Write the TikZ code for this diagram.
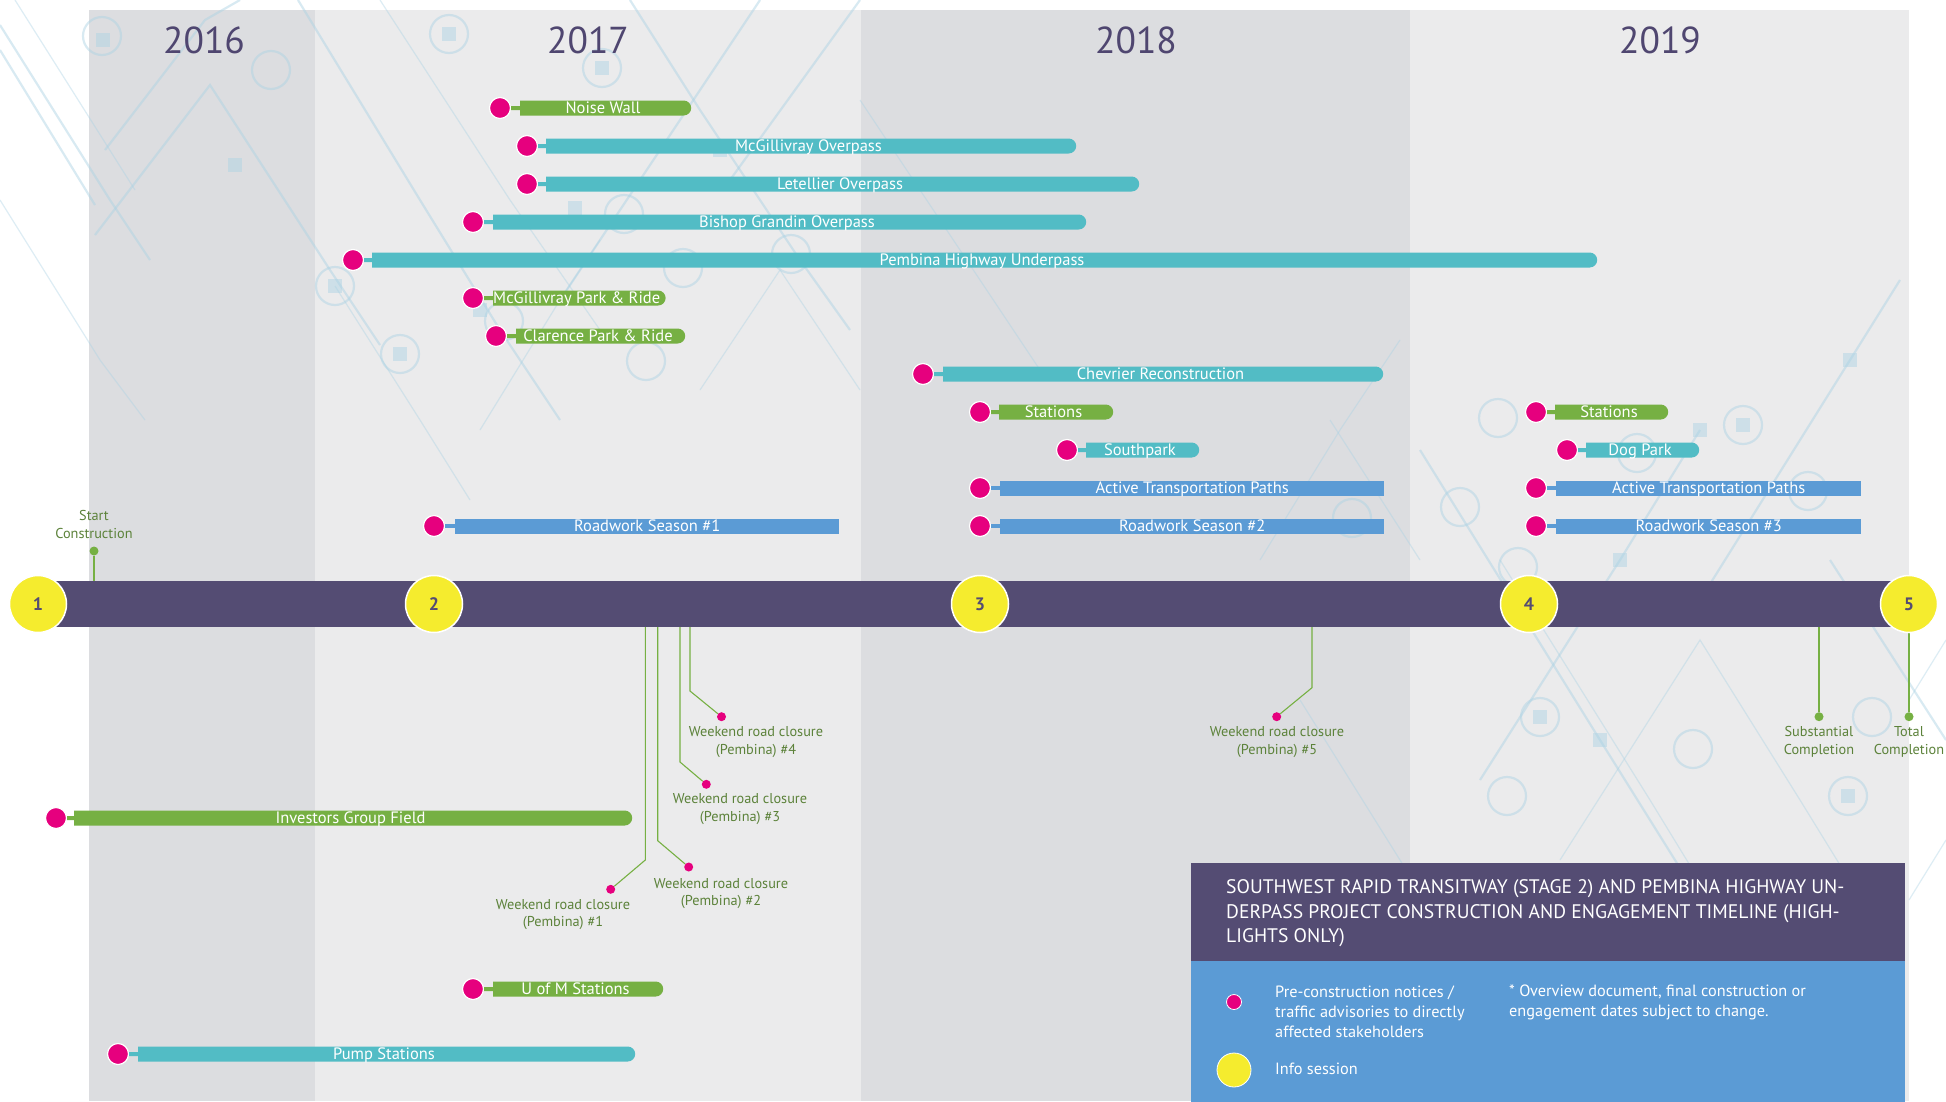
\documentclass[tikz,border=0pt]{standalone}
\usepackage{fontspec}
\setmainfont{PT Sans}
\usetikzlibrary{shapes.misc}
\definecolor{bandA}{RGB}{220,221,224}
\definecolor{bandB}{RGB}{235,235,236}
\definecolor{tlpurple}{RGB}{84,76,115}
\definecolor{gGreen}{RGB}{118,176,67}
\definecolor{gTeal}{RGB}{82,188,197}
\definecolor{gBlue}{RGB}{91,155,213}
\definecolor{mag}{RGB}{230,0,126}
\definecolor{yel}{RGB}{245,236,46}
\definecolor{txtgreen}{RGB}{92,130,58}
\definecolor{yeartxt}{RGB}{79,70,112}
\definecolor{deco}{RGB}{170,210,228}
\tikzset{
  yearlbl/.style={text=yeartxt, font=\fontsize{37.5}{37.5}\selectfont, inner sep=0},
  gdot/.style={circle, fill=mag, draw=white, line width=1.2pt, minimum size=21, inner sep=0},
  barbase/.style={inner sep=0, minimum height=15, text height=13, text depth=1.4, text=white, font=\fontsize{16.5}{16.5}\selectfont, anchor=west},
  roundbar/.style={barbase, rounded rectangle, rounded rectangle west arc=none},
  squarebar/.style={barbase, rectangle},
  stub/.style={line width=4},
  infocircle/.style={circle, fill=yel, draw=white, line width=1.5pt, minimum size=57, inner sep=0, text=tlpurple, font=\bfseries\fontsize{18}{18}\selectfont},
  annline/.style={draw=gGreen, line width=1.1},
  smdot/.style={circle, fill=mag, minimum size=9, inner sep=0},
  smgdot/.style={circle, fill=gGreen, minimum size=9, inner sep=0},
  annlbl/.style={text=txtgreen, align=center, inner sep=0, font=\fontsize{14.3}{17.5}\selectfont},
  lgtext/.style={text=white, align=left, inner sep=0, anchor=west},
  decoline/.style={draw=deco, line width=2.2, opacity=0.45},
  decothin/.style={draw=deco, line width=1.2, opacity=0.4},
  decocirc/.style={draw=deco, line width=2.2, opacity=0.45},
  decosq/.style={fill=deco, opacity=0.45},
}
% #1 name, #2 y, #3 dot x, #4 bar start, #5 bar end, #6 colour, #7 bar style, #8 text
\newcommand\gbar[8]{%
  \node[gdot] (#1d) at (#3,#2) {};
  \node[#7, fill=#6, minimum width={#5-#4}] (#1) at (#4,#2) {#8};
  \draw[stub, draw=#6] (#1d) -- (#1);
}
\newcommand\dcirc[2]{\draw[decocirc] (#1,#2) circle[radius=19];}
\newcommand\dsq[2]{\fill[decosq] (#1-7,#2-7) rectangle (#1+7,#2+7);}
\begin{document}
\begin{tikzpicture}[x=1pt,y=-1pt]
\useasboundingbox (0,0) rectangle (1946,1101);
\fill[white] (0,0) rectangle (1946,1101);
% year bands
\fill[bandA] (89,10) rectangle (315,1101);
\fill[bandB] (315,10) rectangle (861,1101);
\fill[bandA] (861,10) rectangle (1410,1101);
\fill[bandB] (1410,10) rectangle (1909,1101);

% faint circuit decoration
\draw[decoline] (0,25) -- (110,200) -- (150,260);
\draw[decoline] (0,50) -- (95,205);
\draw[decothin] (15,0) -- (135,190);
\draw[decothin] (0,200) -- (100,360) -- (145,420);
\draw[decoline] (105,150) -- (205,20) -- (240,0);
\draw[decoline] (95,235) -- (210,85) -- (330,270) -- (380,345);
\draw[decoline] (298,0) -- (420,200) -- (500,330) -- (560,420);
\draw[decothin] (380,0) -- (510,200) -- (600,330);
\draw[decoline] (560,300) -- (660,150) -- (720,60) -- (760,0);
\draw[decoline] (630,0) -- (700,110) -- (800,260) -- (850,330);
\draw[decothin] (700,390) -- (780,270) -- (860,390);
\draw[decothin] (480,430) -- (560,300) -- (600,240);
\draw[decoline] (730,180) -- (860,0);
\draw[decothin] (335,286) -- (420,420) -- (470,500);
\draw[decothin] (860,100) -- (960,250) -- (1040,370);
\dcirc{102}{36} \dsq{103}{40}
\dcirc{271}{70} \dcirc{449}{34} \dsq{449}{34}
\dcirc{602}{68} \dsq{602}{68}
\dcirc{624}{214} \dcirc{335}{286} \dsq{335}{286}
\dcirc{400}{354} \dsq{400}{354}
\dcirc{504}{321} \dcirc{646}{361} \dcirc{683}{268} \dcirc{791}{254}
\dsq{235}{165} \dsq{575}{208} \dsq{480}{310} \dsq{720}{150}
% right-bottom decoration
\draw[decoline] (1420,450) -- (1600,740) -- (1700,900) -- (1760,1000);
\draw[decothin] (1500,560) -- (1650,800) -- (1760,980);
\draw[decoline] (1480,780) -- (1620,560) -- (1700,430);
\draw[decoline] (1700,600) -- (1850,360) -- (1900,280);
\draw[decothin] (1560,860) -- (1700,640) -- (1800,800) -- (1880,930);
\draw[decoline] (1830,560) -- (1946,740);
\draw[decothin] (1909,900) -- (1946,840);
\draw[decothin] (1909,700) -- (1946,640);
\draw[decothin] (1300,700) -- (1400,860) -- (1460,960);
\draw[decothin] (1260,560) -- (1340,430) -- (1400,340);
\draw[decothin] (1330,420) -- (1420,560);
\dcirc{1540}{717} \dsq{1540}{717}
\dcirc{1693}{749} \dcirc{1507}{796} \dcirc{1848}{796} \dsq{1848}{796}
\dcirc{1872}{717} \dcirc{1518}{567}
\dcirc{1498}{418} \dcirc{1743}{425} \dsq{1743}{425}
\dcirc{1637}{453} \dcirc{1808}{491} \dcirc{1460}{507} \dcirc{1352}{518}
\dsq{1620}{560} \dsq{1700}{430} \dsq{1850}{360} \dsq{1600}{740}

\node[yearlbl] (y2016) at (204,40) {2016};
\node[yearlbl] (y2017) at (588,40) {2017};
\node[yearlbl] (y2018) at (1136,40) {2018};
\node[yearlbl] (y2019) at (1660,40) {2019};

% gantt bars
\gbar{nw}{108}{500}{520}{691}{gGreen}{roundbar}{Noise Wall}
\gbar{mo}{146}{527}{546}{1076}{gTeal}{roundbar}{McGillivray Overpass}
\gbar{lo}{184}{527}{546}{1139}{gTeal}{roundbar}{Letellier Overpass}
\gbar{bg}{222}{473}{493}{1086}{gTeal}{roundbar}{Bishop Grandin Overpass}
\gbar{ph}{260}{353}{372}{1597}{gTeal}{roundbar}{Pembina Highway Underpass}
\gbar{mp}{298}{473}{493}{663}{gGreen}{roundbar}{McGillivray Park \& Ride}
\gbar{cp}{336}{496}{516}{685}{gGreen}{roundbar}{Clarence Park \& Ride}
\gbar{ch}{374}{923}{943}{1383}{gTeal}{roundbar}{Chevrier Reconstruction}
\gbar{st}{412}{980}{999}{1113}{gGreen}{roundbar}{Stations}
\gbar{sp}{450}{1067}{1086}{1199}{gTeal}{roundbar}{Southpark}
\gbar{at}{488}{980}{1000}{1384}{gBlue}{squarebar}{Active Transportation Paths}
\gbar{rs2}{526}{980}{1000}{1384}{gBlue}{squarebar}{Roadwork Season \#2}
\gbar{rs1}{526}{434}{455}{839}{gBlue}{squarebar}{Roadwork Season \#1}
\gbar{stb}{412}{1536}{1555}{1668}{gGreen}{roundbar}{Stations}
\gbar{dp}{450}{1567}{1586}{1699}{gTeal}{roundbar}{Dog Park}
\gbar{atb}{488}{1536}{1556}{1861}{gBlue}{squarebar}{Active Transportation Paths}
\gbar{rs3}{526}{1536}{1556}{1861}{gBlue}{squarebar}{Roadwork Season \#3}
\gbar{ig}{818}{56}{74}{632}{gGreen}{roundbar}{Investors Group Field}
\gbar{um}{989}{473}{493}{663}{gGreen}{roundbar}{U of M Stations}
\gbar{ps}{1054}{118}{138}{635}{gTeal}{roundbar}{Pump Stations}

% timeline
\node[fill=tlpurple, minimum width=1860, minimum height=46, anchor=west, inner sep=0] (tl) at (50,604) {};

% annotations above
\node[smgdot] (scdot) at (94,551) {};
\draw[annline] (scdot) -- (scdot |- tl.north);
\node[annlbl] (sclbl) at (94,524.5) {Start\\Construction};

% weekend closures
\coordinate (w4b) at (690,691);
\node[smdot] (w4d) at (721.5,716.7) {};
\draw[annline] (w4b |- tl.south) -- (w4b) -- (w4d);
\node[annlbl] (w4l) at (756,742) {Weekend road closure\\(Pembina) \#4};

\coordinate (w3b) at (680,762);
\node[smdot] (w3d) at (706.3,784.3) {};
\draw[annline] (w3b |- tl.south) -- (w3b) -- (w3d);
\node[annlbl] (w3l) at (740,809) {Weekend road closure\\(Pembina) \#3};

\coordinate (w2b) at (657.7,840.7);
\node[smdot] (w2d) at (688.7,867) {};
\draw[annline] (w2b |- tl.south) -- (w2b) -- (w2d);
\node[annlbl] (w2l) at (721,893.5) {Weekend road closure\\(Pembina) \#2};

\coordinate (w1b) at (645.3,860);
\node[smdot] (w1d) at (610.7,889.3) {};
\draw[annline] (w1b |- tl.south) -- (w1b) -- (w1d);
\node[annlbl] (w1l) at (563,914.5) {Weekend road closure\\(Pembina) \#1};

\coordinate (w5b) at (1312,687.7);
\node[smdot] (w5d) at (1276.7,716.7) {};
\draw[annline] (w5b |- tl.south) -- (w5b) -- (w5d);
\node[annlbl] (w5l) at (1277,742) {Weekend road closure\\(Pembina) \#5};

\node[smgdot] (subd) at (1819,716.7) {};
\draw[annline] (subd |- tl.south) -- (subd);
\node[annlbl] (subl) at (1819,742) {Substantial\\Completion};

\node[smgdot] (totd) at (1909,716.7) {};
\draw[annline] (totd |- tl.south) -- (totd);
\node[annlbl] (totl) at (1909,742) {Total\\Completion};

% info sessions
\node[infocircle] (c1) at (38,604) {1};
\node[infocircle] (c2) at (434,604) {2};
\node[infocircle] (c3) at (980,604) {3};
\node[infocircle] (c4) at (1529,604) {4};
\node[infocircle] (c5) at (1909,604) {5};

% legend
\node[fill=tlpurple, anchor=north west, minimum width=714, minimum height=98, inner sep=0] (lghead) at (1191,863) {};
\node[fill=gBlue, anchor=north west, minimum width=714, minimum height=141, inner sep=0] (lgbody) at (1191,961) {};
\node[lgtext, font=\fontsize{19.6}{24.5}\selectfont] (lgtitle) at (1226,913.5) {SOUTHWEST RAPID TRANSITWAY (STAGE 2) AND PEMBINA HIGHWAY UN-\\DERPASS PROJECT CONSTRUCTION AND ENGAGEMENT TIMELINE (HIGH-\\LIGHTS ONLY)};
\node[circle, fill=mag, draw=white, line width=0.8pt, minimum size=15, inner sep=0] (lgdot) at (1234,1002) {};
\node[lgtext, font=\fontsize{16.3}{20}\selectfont] (lgdottxt) at (1275,1012) {Pre-construction notices /\\traffic advisories to directly\\affected stakeholders};
\node[lgtext, font=\fontsize{16.3}{20}\selectfont] (lgnote) at (1509,1002) {* Overview document, final construction or\\engagement dates subject to change.};
\node[circle, fill=yel, draw=white, line width=0.8pt, minimum size=34, inner sep=0] (lgyel) at (1234,1070) {};
\node[lgtext, font=\fontsize{16.3}{20}\selectfont] (lgyeltxt) at (1275,1069) {Info session};
\end{tikzpicture}
\end{document}
